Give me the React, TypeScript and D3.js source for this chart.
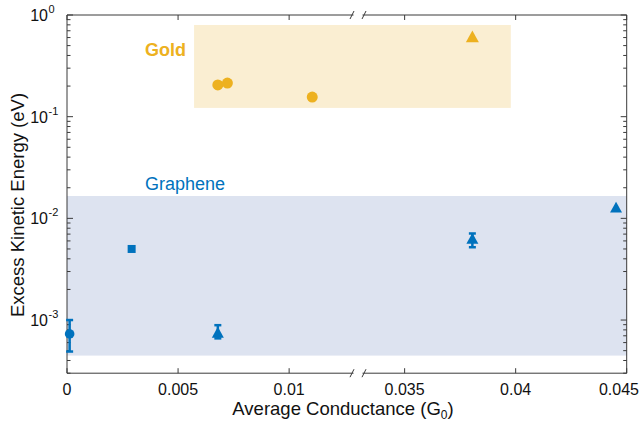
import React from "react";
import * as d3 from "d3";

const W = 640, H = 421;
const M = { left: 67, right: 626.7, top: 15, bottom: 373.2 };

const xTicksLeft = [0, 0.005, 0.01];
const xTicksRight = [0.035, 0.04, 0.045];
const xTickLabels = ["0", "0.005", "0.01", "0.035", "0.04", "0.045"];
const yDecades = [0, -1, -2, -3];

const breakLo = 0.0131, breakHi = 0.0329;

// Gold data
const goldCircleX = [0.00679, 0.00722, 0.01104];
const goldCircleY = [0.205, 0.214, 0.156];
const goldTriX = [0.03805];
const goldTriY = [0.60];
const goldBandX = [0.00572, 0.03978];
const goldBandY = [0.122, 0.798];

// Graphene data
const grCircleX = [0.00006];
const grCircleY = [7.3e-4];
const grCircleErr = [[4.9e-4, 1.0e-3]];
const grSquareX = [0.00291];
const grSquareY = [5.0e-3];
const grTriX = [0.00679, 0.03805, 0.04452];
const grTriY = [7.4e-4, 6.2e-3, 0.0126];
const grTriErr = [[6.6e-4, 8.9e-4], [5.2e-3, 7.1e-3], null];
const grBandX = [0, 0.045];
const grBandY = [4.47e-4, 0.0166];

const GOLD = "#EDB120";
const BLUE = "#0072BD";
const AX = "#3a3a3a";
const FONT = "'Liberation Sans', Arial, sans-serif";

const x = d3.scaleLinear()
  .domain([0, breakLo, breakHi, 0.045])
  .range([M.left, 358, 358, M.right]);
const y = d3.scaleLog().domain([3e-4, 1]).range([M.bottom, M.top]);

function tri(cx: number, cy: number, s: number) {
  const h = s * 0.9;
  return `M${cx},${cy - h * 0.6}L${cx + s / 2},${cy + h * 0.4}L${cx - s / 2},${cy + h * 0.4}Z`;
}

function ErrBar({ cx, lo, hi, color }: { cx: number; lo: number; hi: number; color: string }) {
  const y1 = y(lo), y2 = y(hi);
  return (
    <g stroke={color} strokeWidth={2.5}>
      <line x1={cx} x2={cx} y1={y1} y2={y2} />
      <line x1={cx - 3.5} x2={cx + 3.5} y1={y1} y2={y1} />
      <line x1={cx - 3.5} x2={cx + 3.5} y1={y2} y2={y2} />
    </g>
  );
}

export default function App() {
  const xTicks = [...xTicksLeft, ...xTicksRight];
  const minor: number[] = [];
  for (let e = -4; e < 0; e++) for (let k = 2; k <= 9; k++) {
    const v = k * Math.pow(10, e);
    if (v >= 3e-4 && v <= 1) minor.push(v);
  }
  const bx1 = 352, bx2 = 364;
  const axisLine = (yy: number) => (
    <g stroke={AX} strokeWidth={1}>
      <line x1={M.left} x2={bx1 + 1.5} y1={yy} y2={yy} />
      <line x1={bx2 - 1.5} x2={M.right} y1={yy} y2={yy} />
      <line x1={bx1 - 2} x2={bx1 + 2} y1={yy + 4} y2={yy - 4} />
      <line x1={bx2 - 2} x2={bx2 + 2} y1={yy + 4} y2={yy - 4} />
    </g>
  );
  return (
    <svg width={W} height={H} style={{ position: "absolute", left: 0, top: 0, background: "#fff" }} fontFamily={FONT}>
      {/* bands */}
      <rect x={x(grBandX[0])} y={y(grBandY[1])} width={x(grBandX[1]) - x(grBandX[0])} height={y(grBandY[0]) - y(grBandY[1])} fill="#DDE3F0" />
      <rect x={x(goldBandX[0])} y={y(goldBandY[1])} width={x(goldBandX[1]) - x(goldBandX[0])} height={y(goldBandY[0]) - y(goldBandY[1])} fill="#FAEED2" />

      {/* axes */}
      {axisLine(M.bottom)}
      {axisLine(M.top)}
      <line x1={M.left} x2={M.left} y1={M.top} y2={M.bottom} stroke={AX} />
      <line x1={M.right} x2={M.right} y1={M.top} y2={M.bottom} stroke={AX} />
      {xTicks.map((t, i) => {
        const last = i === xTicks.length - 1;
        return (
          <g key={"xt" + i}>
            <line x1={x(t)} x2={x(t)} y1={M.bottom} y2={M.bottom - 5} stroke={AX} />
            <line x1={x(t)} x2={x(t)} y1={M.top} y2={M.top + 5} stroke={AX} />
            <text x={last ? 639 : x(t)} y={M.bottom + 22} fontSize={16} textAnchor={last ? "end" : "middle"} fill="#111">{xTickLabels[i]}</text>
          </g>
        );
      })}
      {yDecades.map((e) => (
        <g key={"yd" + e}>
          <line x1={M.left} x2={M.left + 6} y1={y(Math.pow(10, e))} y2={y(Math.pow(10, e))} stroke={AX} />
          <line x1={M.right} x2={M.right - 6} y1={y(Math.pow(10, e))} y2={y(Math.pow(10, e))} stroke={AX} />
          <text x={48} y={y(Math.pow(10, e)) + 6} fontSize={16} textAnchor="end" fill="#111">10</text>
          <text x={48.5} y={y(Math.pow(10, e)) - 2} fontSize={11} textAnchor="start" fill="#111">{String(e)}</text>
        </g>
      ))}
      {minor.map((v, i) => (
        <g key={"ym" + i}>
          <line x1={M.left} x2={M.left + 3.5} y1={y(v)} y2={y(v)} stroke={AX} />
          <line x1={M.right} x2={M.right - 3.5} y1={y(v)} y2={y(v)} stroke={AX} />
        </g>
      ))}

      {/* axis titles */}
      <text x={343} y={415} fontSize={18.5} textAnchor="middle" fill="#111">
        Average Conductance (G<tspan fontSize={12} dy={4}>0</tspan><tspan dy={-4}>)</tspan>
      </text>
      <text transform={`translate(24,205) rotate(-90)`} fontSize={18.5} textAnchor="middle" fill="#111">
        Excess Kinetic Energy (eV)
      </text>

      {/* group labels */}
      <text x={145} y={56} fontSize={18} fontWeight="bold" fill={GOLD}>Gold</text>
      <text x={145} y={190} fontSize={18} fill={BLUE}>Graphene</text>

      {/* gold points */}
      {goldCircleX.map((v, i) => (
        <circle key={"gc" + i} cx={x(v)} cy={y(goldCircleY[i])} r={5.5} fill={GOLD} />
      ))}
      {goldTriX.map((v, i) => (
        <path key={"gt" + i} d={tri(x(v), y(goldTriY[i]), 13)} fill={GOLD} />
      ))}

      {/* graphene points */}
      {grCircleX.map((v, i) => (
        <g key={"bc" + i}>
          <ErrBar cx={x(v) + 1.3} lo={grCircleErr[i][0]} hi={grCircleErr[i][1]} color={BLUE} />
          <circle cx={x(v) + 1.3} cy={y(grCircleY[i])} r={4.8} fill={BLUE} />
        </g>
      ))}
      {grSquareX.map((v, i) => (
        <rect key={"bs" + i} x={x(v) - 4} y={y(grSquareY[i]) - 4} width={8} height={8} fill={BLUE} />
      ))}
      {grTriX.map((v, i) => {
        const e = grTriErr[i];
        return (
          <g key={"bt" + i}>
            {e && <ErrBar cx={x(v)} lo={e[0]} hi={e[1]} color={BLUE} />}
            <path d={tri(x(v), y(grTriY[i]), 12)} fill={BLUE} />
          </g>
        );
      })}
    </svg>
  );
}
